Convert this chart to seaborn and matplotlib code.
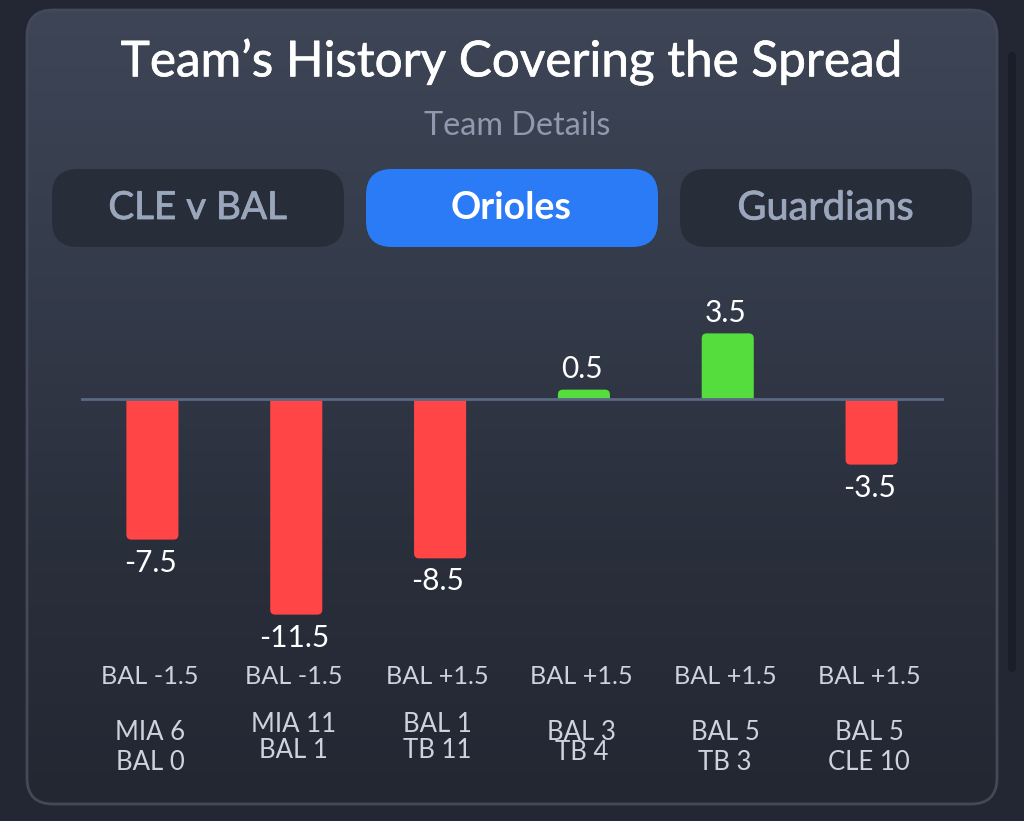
import numpy as np
import pandas as pd
import matplotlib
matplotlib.use("Agg")
import matplotlib.pyplot as plt
from matplotlib.patches import FancyBboxPatch, Rectangle
from matplotlib.colors import LinearSegmentedColormap
import matplotlib.patheffects as pe
import seaborn as sns

games = [0, 1, 2, 3, 4, 5]
margins = [-7.5, -11.5, -8.5, 0.5, 3.5, -3.5]
margin_labels = ["-7.5", "-11.5", "-8.5", "0.5", "3.5", "-3.5"]
spreads = ["BAL -1.5", "BAL -1.5", "BAL +1.5", "BAL +1.5", "BAL +1.5", "BAL +1.5"]
score_top = ["MIA 6", "MIA 11", "BAL 1", "BAL 3", "BAL 5", "BAL 5"]
score_bottom = ["BAL 0", "BAL 1", "TB 11", "TB 4", "TB 3", "CLE 10"]
score_top_y = [733, 725, 725, 733, 733, 733]
score_bottom_y = [762, 751, 751, 752, 762, 762]
tabs = ["CLE v BAL", "Orioles", "Guardians"]
title = "Team\u2019s History Covering the Spread"
subtitle = "Team Details"

W, H = 1024, 821
BG = "#232733"
FONT = "Lato"

sns.set_theme(style="white")
plt.rcParams["font.family"] = [FONT, "DejaVu Sans"]
fig = plt.figure(figsize=(W / 100, H / 100), dpi=100, facecolor=BG)


def thick(color, width):
    return [pe.withStroke(linewidth=width, foreground=color)]


# page layer in pixel coordinates (y down)
page = fig.add_axes([0, 0, 1, 1], zorder=0)
page.set_xlim(0, W)
page.set_ylim(H, 0)
page.axis("off")

cmap = LinearSegmentedColormap.from_list("card", ["#3E4556", "#343B4A", "#2A2F3C", "#232732"])
grad = page.imshow(np.linspace(0, 1, 256)[:, None], cmap=cmap, extent=[27, 997, 804, 10],
                   aspect="auto", zorder=1)
card = FancyBboxPatch((27, 10), 970, 794, boxstyle="round,pad=0,rounding_size=26",
                      fc="none", ec="#434959", lw=2, zorder=2)
page.add_patch(card)
grad.set_clip_path(card)
page.set_xlim(0, W)
page.set_ylim(H, 0)

# scrollbar
page.add_patch(FancyBboxPatch((1008, 52), 8, 620, boxstyle="round,pad=0,rounding_size=4",
                              fc="#1B1E29", ec="none", zorder=2))

page.text(511, 62, title, color="white", fontsize=35.6,
          ha="center", va="center", zorder=3, path_effects=thick("white", 0.5))
page.text(517, 126, subtitle, color="#8F9AAE", fontsize=23.3,
          ha="center", va="center", zorder=3)

tab_x = [52, 366, 680]
tab_fc = ["#282D3A", "#2B7AF6", "#282D3A"]
tab_tc = ["#9AA6BC", "white", "#9AA6BC"]
tab_w = ["normal", "bold", "normal"]
tab_size = [27.8, 27, 28.6]
for x0, label, fc, tc, w, fs in zip(tab_x, tabs, tab_fc, tab_tc, tab_w, tab_size):
    page.add_patch(FancyBboxPatch((x0, 169), 292, 78, boxstyle="round,pad=0,rounding_size=26",
                                  fc=fc, ec="none", zorder=3))
    txt = page.text(x0 + 145.5, 208, label, color=tc, fontsize=fs, fontweight=w,
                    ha="center", va="center", zorder=4)
    if w == "normal":
        txt.set_path_effects(thick(tc, 0.6))

# chart axes: 863 px wide, 300..640 px tall
left, right, top, bottom = 80.5, 943.5, 300, 640
ax = fig.add_axes([left / W, 1 - bottom / H, (right - left) / W, (bottom - top) / H], zorder=1)
ax.patch.set_alpha(0)
df = pd.DataFrame({"game": games, "margin": margins})
df["outcome"] = np.where(df["margin"] > 0, "cover", "miss")
sns.barplot(data=df, x="game", y="margin", hue="outcome", dodge=False, width=0.362,
            palette={"cover": "#55DD3E", "miss": "#FF4545"}, legend=False, ax=ax, saturation=1)
PX_PER_UNIT = 18.75
ax.set_xlim(-0.5, 5.5)
ax.set_ylim(-(bottom - 399) / PX_PER_UNIT, (399 - top) / PX_PER_UNIT)
ax.set_xlabel("")
ax.set_ylabel("")
ax.set_xticks([])
ax.set_yticks([])
for s in ax.spines.values():
    s.set_visible(False)
ax.axhline(0, color="#5A6785", lw=2, zorder=5)

# round the free end of each bar
px_x = (right - left) / 6
rad_x = 5 / px_x
aspect = px_x / PX_PER_UNIT
for bar in list(ax.patches):
    x0, w, h = bar.get_x(), bar.get_width(), bar.get_height()
    if w == 0 or h == 0 or np.isnan(h):
        bar.remove()
        continue
    color = bar.get_facecolor()
    bar.set_visible(False)
    ext = 0.6
    y0 = min(0, h) - (ext if h > 0 else 0)
    hh = abs(h) + ext
    rp = FancyBboxPatch((x0, y0), w, hh, boxstyle=f"round,pad=0,rounding_size={rad_x}",
                        mutation_aspect=aspect, fc=color, ec="none", zorder=3)
    ax.add_patch(rp)
    rp.set_clip_path(Rectangle((x0 - 1, min(0, h) - 1 if h < 0 else 0), w + 2, abs(h) + 1,
                               transform=ax.transData))

for g, v, lab in zip(games, margins, margin_labels):
    ax.annotate(lab, (g, v), xytext=(-1.5, 15 if v > 0 else -16.5), textcoords="offset points",
                ha="center", va="center", color="white", fontsize=21.5,
                annotation_clip=False, zorder=6)

for g, s, a, b, ya, yb in zip(games, spreads, score_top, score_bottom, score_top_y, score_bottom_y):
    xc = left + (g + 0.5) * px_x - 2.5
    page.text(xc, 676, s, color="#CDD2DE", fontsize=18.2, ha="center", va="center", zorder=3)
    page.text(xc, ya, a, color="#CDD2DE", fontsize=18.5, ha="center", va="center", zorder=3)
    page.text(xc, yb, b, color="#CDD2DE", fontsize=18.5, ha="center", va="center", zorder=3)

fig.savefig("out.png", dpi=100, facecolor=BG)
